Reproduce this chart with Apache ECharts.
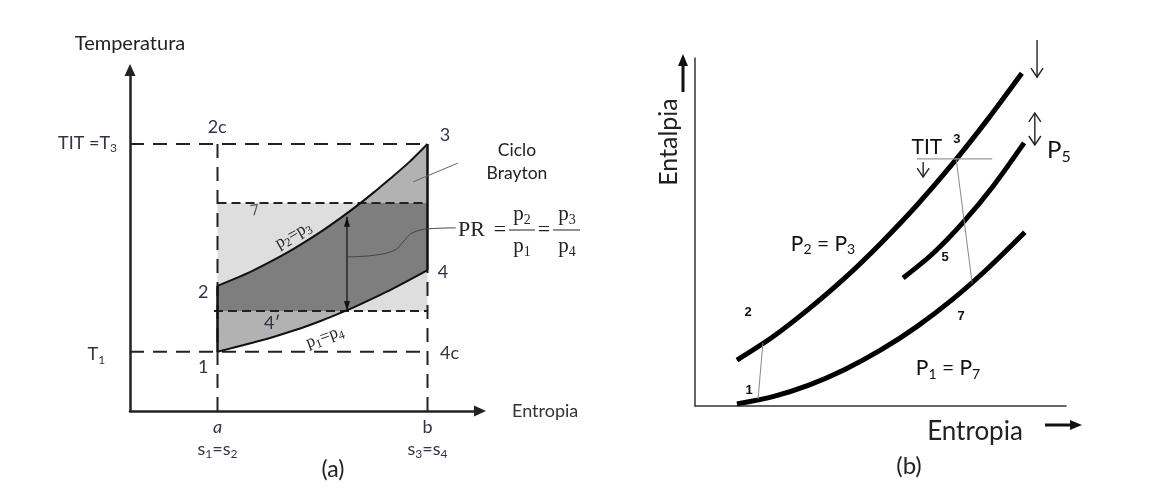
<!DOCTYPE html>
<html>
<head>
<meta charset="utf-8">
<title>Ciclo Brayton</title>
<script src="https://cdn.jsdelivr.net/npm/echarts@6/dist/echarts.min.js"></script>
<style>
html, body { margin: 0; padding: 0; background: #fff; }
#chart { width: 1155px; height: 493px; }
</style>
</head>
<body>
<div id="chart"></div>
<script>
// ---------- (a) diagrama T-s (unidades arbitrárias) ----------
var sA = 2.5, sB = 8.5;                 // s1 = s2 , s3 = s4
var T1 = 1.74, T3 = 7.83;               // T1 , TIT = T3
var bandTop = 6.1, bandBottom = 2.93;   // faixa clara (7 ... 4')
// isobara p2 = p3 (pontos 2 -> 3)
var highPressure = [[2.5, 3.67], [3.0, 3.88], [3.5, 4.11], [4.0, 4.37], [4.5, 4.65], [5.0, 4.96], [5.5, 5.29],
  [6.0, 5.65], [6.5, 6.03], [7.0, 6.44], [7.5, 6.87], [8.0, 7.32], [8.5, 7.83]];
// isobara p1 = p4 (pontos 1 -> 4)
var lowPressure = [[2.5, 1.74], [3.0, 1.87], [3.5, 2.0], [4.0, 2.14], [4.5, 2.3], [5.0, 2.47], [5.5, 2.66],
  [6.0, 2.87], [6.5, 3.09], [7.0, 3.33], [7.5, 3.58], [8.0, 3.85], [8.5, 4.13]];
var prArrow = [[6.2, 5.7, 6.2, 2.93, 1]];
var prLeader = [[6.23, 4.52], [7.0, 4.57], [7.57, 4.72], [7.83, 4.99], [8.06, 5.22], [8.51, 5.34], [9.31, 5.37]];
var braytonLeader = [[8.09, 6.72], [9.37, 7.27]];

// ---------- (b) diagrama h-s ----------
var isoP23 = [[1.13, 1.32], [2.1, 1.99], [3.07, 2.79], [4.04, 3.68], [5.01, 4.68], [5.98, 5.77], [6.95, 6.97], [7.92, 8.28], [8.81, 9.56]];
var isoP5 = [[5.61, 3.68], [6.42, 4.39], [7.22, 5.27], [8.03, 6.31], [8.87, 7.56]];
var isoP17 = [[1.13, 0.06], [2.1, 0.27], [3.07, 0.6], [4.04, 1.05], [5.01, 1.61], [5.98, 2.28], [6.95, 3.07], [7.92, 3.98], [8.89, 4.99]];
var compressor = [[1.7, 0.2], [1.83, 1.81]];
var turbine = [[7.04, 7.1], [7.47, 3.53]];
var titLine = [[5.98, 7.1], [8.01, 7.1]];
// setas de deslocamento: x1, y1, x2, y2, dupla
var shiftArrows = [[9.22, 10.52, 9.22, 9.45, 0], [9.16, 8.42, 9.16, 7.5, 1], [6.15, 7.01, 6.15, 6.58, 0]];

// rótulos: x, y, texto (_n = índice), estilo, rotação, alinhamento
var labelsA = [
  [-0.37, 7.86, 'TIT =T_3', 'side', 0, 'right'],
  [-0.71, 1.66, 'T_1', 'side', 0, 'right'],
  [2.49, 8.33, '2c', 'pt'],
  [9.0, 8.09, '3', 'pt'],
  [2.09, 3.49, '2', 'pt'],
  [8.94, 4.08, '4', 'pt'],
  [2.09, 1.29, '1', 'pt'],
  [8.86, 1.7, '4c', 'pt', 0, 'left'],
  [4.06, 2.58, '4′', 'pt'],
  [3.57, 5.89, '7', 'faint', 10],
  [4.66, 5.16, 'p_2=p_3', 'iso', 30],
  [5.57, 2.17, 'p_1=p_4', 'iso', 20]
];
var labelsB = [
  [3.45, 4.66, 'P_2 = P_3', 'isoB'],
  [6.82, 1.09, 'P_1 = P_7', 'isoB'],
  [1.43, 2.7, '2', 'num'],
  [1.46, 0.46, '1', 'num'],
  [7.17, 2.56, '7', 'num'],
  [6.74, 4.28, '5', 'num'],
  [7.06, 7.67, '3', 'num'],
  [6.25, 7.44, 'TIT', 'isoB'],
  [9.49, 7.36, 'P_5', 'p5', 0, 'left']
];

var SANS = 'Lato, "Noto Sans", sans-serif';
var SERIF = '"Liberation Serif", "DejaVu Serif", serif';
var textStyles = {
  side: { size: 18, family: SANS, color: '#2f3447' },
  pt: { size: 18, family: SANS, color: '#2f3447' },
  faint: { size: 15, family: SANS, color: '#555' },
  iso: { size: 17, family: SERIF, color: '#222' },
  isoB: { size: 21, family: SANS, color: '#111' },
  num: { size: 13, family: '"Liberation Sans", Arial, sans-serif', color: '#111', weight: 'bold' },
  p5: { size: 24, family: SANS, color: '#111' }
};

function rt(s) { return s.replace(/_(\w)/g, '{sub|$1}'); }
function subRich(size, family, color) {
  var sub = Math.round(size * 0.68);
  return { sub: { fontSize: sub, fontFamily: family, fill: color, color: color, lineHeight: sub, verticalAlign: 'bottom' } };
}
function richText(x, y, text, size, family, color, align, rotation) {
  return {
    type: 'text', x: x, y: y, rotation: rotation || 0,
    style: { text: rt(text), fontSize: size, fontFamily: family, fill: color, align: align || 'center',
      verticalAlign: 'middle', lineHeight: Math.round(size * 1.25), rich: subRich(size, family, color) }
  };
}

// polígono do ciclo e recorte pela faixa
var cycle = highPressure.concat(lowPressure.slice().reverse());
function clipY(poly, limit, keepBelow) {
  var out = [];
  for (var i = 0; i < poly.length; i++) {
    var p = poly[i], q = poly[(i + 1) % poly.length];
    var pin = keepBelow ? p[1] <= limit : p[1] >= limit;
    var qin = keepBelow ? q[1] <= limit : q[1] >= limit;
    if (pin) out.push(p);
    if (pin !== qin) {
      var t = (limit - p[1]) / (q[1] - p[1]);
      out.push([p[0] + t * (q[0] - p[0]), limit]);
    }
  }
  return out;
}
var darkPart = clipY(clipY(cycle, bandTop, true), bandBottom, false);
var band = [[sA, bandBottom], [sB, bandBottom], [sB, bandTop], [sA, bandTop]];

function polygonSeries(gi, pts, color) {
  return {
    type: 'custom', xAxisIndex: gi, yAxisIndex: gi, silent: true, clip: false,
    data: [pts[0]],
    renderItem: function (params, api) {
      return { type: 'polygon', shape: { points: pts.map(function (p) { return api.coord(p); }) }, style: { fill: color } };
    }
  };
}
function path(gi, pts, color, width, dash, smooth) {
  return {
    type: 'line', xAxisIndex: gi, yAxisIndex: gi, data: pts, symbol: 'none', silent: true, clip: false,
    smooth: smooth || false,
    lineStyle: { color: color, width: width, type: dash || 'solid', cap: 'butt' }
  };
}
function head(from, to, L, W, filled, color, lw) {
  var dx = to[0] - from[0], dy = to[1] - from[1], len = Math.sqrt(dx * dx + dy * dy);
  var ux = dx / len, uy = dy / len;
  var pts = [[to[0] - L * ux - W * uy, to[1] - L * uy + W * ux], [to[0], to[1]], [to[0] - L * ux + W * uy, to[1] - L * uy - W * ux]];
  if (filled) return { type: 'polygon', shape: { points: pts }, style: { fill: color } };
  return { type: 'polyline', shape: { points: pts }, style: { stroke: color, lineWidth: lw, fill: 'none' } };
}
function arrowSeries(gi, list, opt) {
  return {
    type: 'custom', xAxisIndex: gi, yAxisIndex: gi, silent: true, clip: false,
    encode: { x: [0, 2], y: [1, 3] },
    data: list,
    renderItem: function (params, api) {
      var p1 = api.coord([api.value(0), api.value(1)]);
      var p2 = api.coord([api.value(2), api.value(3)]);
      var kids = [{ type: 'line', shape: { x1: p1[0], y1: p1[1], x2: p2[0], y2: p2[1] }, style: { stroke: opt.color, lineWidth: opt.lw } }];
      kids.push(head(p1, p2, opt.L, opt.W, opt.filled, opt.color, opt.lw));
      if (api.value(4) === 1) kids.push(head(p2, p1, opt.L, opt.W, opt.filled, opt.color, opt.lw));
      return { type: 'group', children: kids };
    }
  };
}
function labelSeries(gi, list) {
  return {
    type: 'custom', xAxisIndex: gi, yAxisIndex: gi, silent: true, clip: false, z: 10,
    data: list.map(function (l) { return [l[0], l[1]]; }),
    renderItem: function (params, api) {
      var l = list[params.dataIndex], st = textStyles[l[3]];
      var p = api.coord([api.value(0), api.value(1)]);
      var el = richText(p[0], p[1], l[2], st.size, st.family, st.color, l[5], (l[4] || 0) * Math.PI / 180);
      el.style.fontWeight = st.weight || 'normal';
      return el;
    }
  };
}

var longDash = [14, 9], shortDash = [9, 5];
var chart = echarts.init(document.getElementById('chart'));
var option = {
  animation: false,
  backgroundColor: '#fff',
  grid: [
    { left: 130, top: 70, width: 350, height: 341 },
    { left: 695, top: 58, width: 371, height: 348 }
  ],
  xAxis: [
    {
      gridIndex: 0, type: 'value', min: 0, max: 10, interval: 0.5,
      axisLine: { onZero: false, symbol: ['none', 'triangle'], symbolSize: [11, 12], lineStyle: { color: '#222', width: 2.5 } },
      axisTick: { show: false }, splitLine: { show: false },
      axisLabel: {
        margin: 6,
        formatter: function (v) {
          if (Math.abs(v - sA) < 1e-6) return '{i|a}\n{s|s}{sb|1}{s|=s}{sb|2}';
          if (Math.abs(v - sB) < 1e-6) return '{n|b}\n{s|s}{sb|3}{s|=s}{sb|4}';
          return '';
        },
        rich: {
          i: { fontFamily: SANS, fontStyle: 'italic', fontSize: 18, color: '#2f3447', lineHeight: 21 },
          n: { fontFamily: SANS, fontSize: 18, color: '#2f3447', lineHeight: 21 },
          s: { fontFamily: SANS, fontSize: 18, color: '#2f3447', lineHeight: 22 },
          sb: { fontFamily: SANS, fontSize: 12, color: '#2f3447', lineHeight: 12, verticalAlign: 'bottom' }
        }
      },
      name: 'Entropia', nameLocation: 'end', nameGap: 32,
      nameTextStyle: { fontFamily: SANS, fontSize: 18, color: '#333' }
    },
    {
      gridIndex: 1, type: 'value', min: 0, max: 10,
      axisLine: { onZero: false, lineStyle: { color: '#333', width: 1.5 } },
      axisTick: { show: false }, axisLabel: { show: false }, splitLine: { show: false }
    }
  ],
  yAxis: [
    {
      gridIndex: 0, type: 'value', min: 0, max: 10,
      axisLine: { show: true, onZero: false, symbol: ['none', 'triangle'], symbolSize: [11, 12], lineStyle: { color: '#222', width: 2.5 } },
      axisTick: { show: false }, axisLabel: { show: false }, splitLine: { show: false },
      name: 'Temperatura', nameLocation: 'end', nameGap: 16,
      nameTextStyle: { fontFamily: SANS, fontSize: 20, color: '#222', align: 'center' }
    },
    {
      gridIndex: 1, type: 'value', min: 0, max: 10,
      axisLine: { show: true, onZero: false, lineStyle: { color: '#333', width: 1.5 } },
      axisTick: { show: false }, axisLabel: { show: false }, splitLine: { show: false }
    }
  ],
  series: [
    polygonSeries(0, band, '#dedede'),
    polygonSeries(0, cycle, '#b2b2b2'),
    polygonSeries(0, darkPart, '#7e7e7e'),
    path(0, [[0, T3], [sB, T3]], '#222', 2, longDash),
    path(0, [[0, T1], [sB, T1]], '#222', 2, longDash),
    path(0, [[sA, 0], [sA, T3]], '#222', 2, longDash),
    path(0, [[sB, 0], [sB, lowPressure[lowPressure.length - 1][1]]], '#222', 2, longDash),
    path(0, [[sA, bandTop], [sB, bandTop]], '#222', 2, shortDash),
    path(0, [[sA - 0.1, bandBottom], [sB, bandBottom]], '#222', 2, shortDash),
    path(0, [lowPressure[0], highPressure[0]], '#111', 2.5),
    path(0, [lowPressure[lowPressure.length - 1], highPressure[highPressure.length - 1]], '#111', 2.5),
    path(0, highPressure, '#111', 2, null, 0.2),
    path(0, lowPressure, '#111', 2, null, 0.2),
    path(0, prLeader, '#444', 1, null, 0.4),
    path(0, braytonLeader, '#666', 1),
    arrowSeries(0, prArrow, { color: '#111', lw: 1.2, L: 10, W: 3, filled: true }),
    labelSeries(0, labelsA),

    path(1, isoP23, '#000', 5, null, 0.3),
    path(1, isoP5, '#000', 5, null, 0.3),
    path(1, isoP17, '#000', 5, null, 0.3),
    path(1, compressor, '#888', 1),
    path(1, turbine, '#888', 1),
    path(1, titLine, '#999', 1.2),
    arrowSeries(1, shiftArrows, { color: '#222', lw: 1.4, L: 9, W: 6, filled: false }),
    labelSeries(1, labelsB)
  ],
  graphic: [
    richText(517, 150, 'Ciclo', 17.5, SANS, '#222'),
    richText(517, 173, 'Brayton', 17.5, SANS, '#222'),
    richText(458, 230, 'PR', 22, SERIF, '#222', 'left'),
    richText(500, 230, '=', 22, SERIF, '#222'),
    richText(522, 214, 'p_2', 21, SERIF, '#222'),
    { type: 'line', shape: { x1: 509, y1: 230, x2: 535, y2: 230 }, style: { stroke: '#222', lineWidth: 1 } },
    richText(522, 246, 'p_1', 21, SERIF, '#222'),
    richText(544, 230, '=', 22, SERIF, '#222'),
    richText(567, 214, 'p_3', 21, SERIF, '#222'),
    { type: 'line', shape: { x1: 553, y1: 230, x2: 580, y2: 230 }, style: { stroke: '#222', lineWidth: 1 } },
    richText(567, 246, 'p_4', 21, SERIF, '#222'),
    richText(333, 470, '(a)', 23, SANS, '#222'),
    richText(909, 466, '(b)', 24, SANS, '#222'),
    richText(669, 142, 'Entalpia', 25, SANS, '#222', 'center', Math.PI / 2),
    { type: 'line', shape: { x1: 683, y1: 92, x2: 683, y2: 64 }, style: { stroke: '#111', lineWidth: 3 } },
    { type: 'polygon', shape: { points: [[683, 54], [678, 66], [688, 66]] }, style: { fill: '#111' } },
    richText(975, 432, 'Entropia', 26, SANS, '#222'),
    { type: 'line', shape: { x1: 1045, y1: 425, x2: 1072, y2: 425 }, style: { stroke: '#111', lineWidth: 3 } },
    { type: 'polygon', shape: { points: [[1082, 425], [1070, 420], [1070, 430]] }, style: { fill: '#111' } }
  ]
};
chart.setOption(option);
window.addEventListener('resize', function () { chart.resize(); });
</script>
</body>
</html>
